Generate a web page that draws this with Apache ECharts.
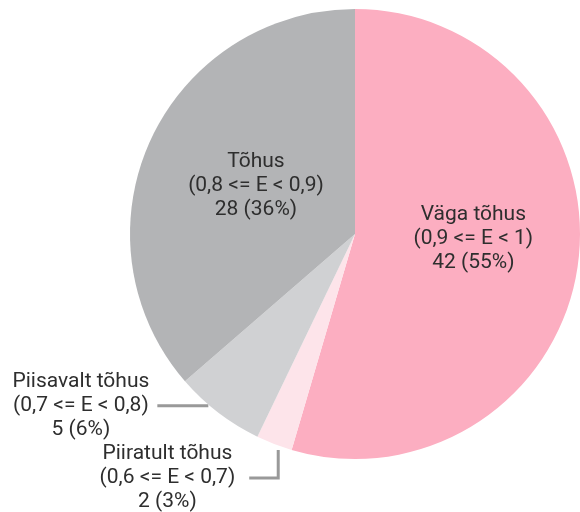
<!DOCTYPE html>
<html>
<head>
<meta charset="utf-8">
<script src="https://cdn.jsdelivr.net/npm/echarts@6/dist/echarts.min.js"></script>
<style>
  html, body { margin: 0; padding: 0; background: #fff; }
  #pie { width: 580px; height: 512px; }
</style>
</head>
<body>
<div id="pie"></div>
<script>
// andmed
var names = ['Väga tõhus', 'Piiratult tõhus', 'Piisavalt tõhus', 'Tõhus'];
var ranges = ['(0,9 <= E < 1)', '(0,6 <= E < 0,7)', '(0,7 <= E < 0,8)', '(0,8 <= E < 0,9)'];
var values = [42, 2, 5, 28];
var percents = [55, 3, 6, 36];

var colors = ['#fcaec1', '#fde4ea', '#d0d1d3', '#b3b4b6'];
var inside = [true, false, false, true];

var chart = echarts.init(document.getElementById('pie'));

var data = names.map(function (n, i) {
    return {
        name: n,
        value: values[i],
        itemStyle: { color: colors[i] },
        label: { position: inside[i] ? 'inside' : 'outside' },
        labelLine: { show: !inside[i] }
    };
});

var option = {
    animation: false,
    series: [{
        type: 'pie',
        center: [355, 234],
        radius: 225,
        startAngle: 90,
        clockwise: true,
        data: data,
        label: {
            fontFamily: 'Roboto',
            fontSize: 21,
            lineHeight: 24,
            color: '#2e2e2e',
            align: 'center',
            overflow: 'none',
            edgeDistance: 0,
            formatter: function (p) {
                var i = p.dataIndex;
                return names[i] + '\n' + ranges[i] + '\n' + values[i] + ' (' + percents[i] + '%)';
            }
        },
        labelLine: {
            lineStyle: { color: '#999', width: 3 }
        },
        labelLayout: function (p) {
            var i = p.dataIndex;
            if (i === 0) return { dx: 4, dy: -12 };
            if (i === 3) return { dx: 6 };
            var pts = p.labelLinePoints;
            if (!pts) return {};
            var p0 = pts[0];
            var w = p.labelRect.width;
            if (i === 2) {
                // horisontaalne joon
                var sx = p0[0] - 10, sy = p0[1] - 7;
                var endX = sx - 51;
                return {
                    x: endX - 8 - w / 2,
                    y: sy,
                    align: 'center',
                    verticalAlign: 'middle',
                    labelLinePoints: [[sx, sy], [endX, sy], [endX, sy]]
                };
            }
            // murtud joon: alla ja vasakule
            var x0 = p0[0] + 4, y0 = p0[1] + 6;
            var y1 = y0 + 28, x1 = x0 - 29;
            return {
                x: x1 - 14 - w / 2,
                y: y1,
                align: 'center',
                verticalAlign: 'middle',
                labelLinePoints: [[x0, y0], [x0, y1], [x1, y1]]
            };
        }
    }]
};

chart.setOption(option);
</script>
</body>
</html>
